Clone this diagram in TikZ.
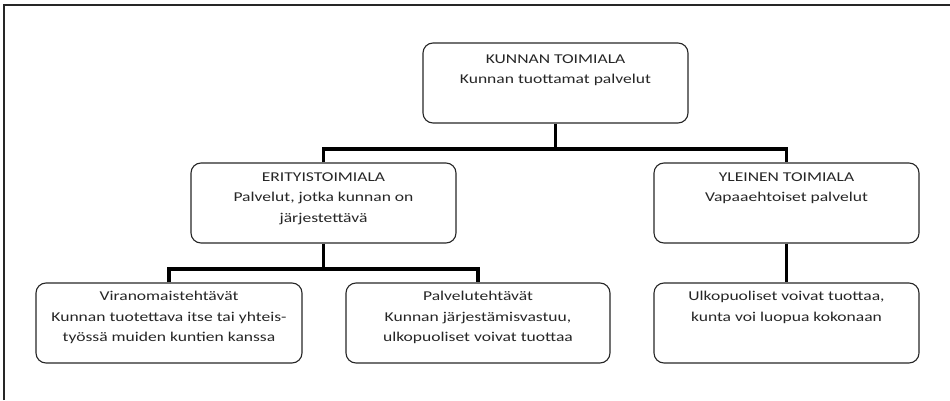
\documentclass[tikz,border=0pt]{standalone}
\usepackage{fontspec}
\setmainfont{Carlito}
\usepackage{graphicx}
\newcommand{\sx}[1]{\scalebox{1.3}[1]{#1}}
\begin{document}
\begin{tikzpicture}[x=1pt,y=1pt,
  box/.style={draw=black!85, line width=1.1pt, rounded corners=10pt,
    minimum width=265pt, minimum height=80pt, inner sep=0pt},
  txt/.style={align=center, inner sep=0pt, anchor=north, text=black!85,
    font=\fontsize{13.5}{20.5}\selectfont},
  conn/.style={line width=3.2pt, black},
  frame/.style={line width=1.4pt, black!85}]
\useasboundingbox (0,0) rectangle (950,400);
\draw[frame] (4,0) -- (4,395) -- (950,395);
% boxes
\node[box] (top) at (555.5,317) {};
\node[box] (eri) at (323.5,197) {};
\node[box] (yle) at (786.5,197) {};
\node[box, minimum width=266pt] (vir) at (169,77) {};
\node[box, minimum width=264pt] (pal) at (478,77) {};
\node[box] (ulk) at (786.5,77) {};
% texts
\node[txt] (topt) at ([yshift=-12pt]top.north) {\sx{KUNNAN TOIMIALA}\\\sx{Kunnan tuottamat palvelut}};
\node[txt] (erit) at ([yshift=-10pt]eri.north) {\sx{ERITYISTOIMIALA}\\\sx{Palvelut, jotka kunnan on}\\\sx{järjestettävä}};
\node[txt] (ylet) at ([yshift=-10pt]yle.north) {\sx{YLEINEN TOIMIALA}\\\sx{Vapaaehtoiset palvelut}};
\node[txt] (virt) at ([yshift=-8.5pt]vir.north) {\sx{Viranomaistehtävät}\\\sx{Kunnan tuotettava itse tai yhteis-}\\\sx{työssä muiden kuntien kanssa}};
\node[txt] (palt) at ([yshift=-8.5pt]pal.north) {\sx{Palvelutehtävät}\\\sx{Kunnan järjestämisvastuu,}\\\sx{ulkopuoliset voivat tuottaa}};
\node[txt] (ulkt) at ([yshift=-8.5pt]ulk.north) {\sx{Ulkopuoliset voivat tuottaa,}\\\sx{kunta voi luopua kokonaan}};
% connectors
\coordinate (b1) at (555.5,251);
\coordinate (b2) at (323.5,131);
\draw[conn] (top.south) -- (b1);
\draw[conn] (eri.north) |- (b1) -| (yle.north);
\draw[conn] (eri.south) -- (b2);
\draw[conn] (vir.north) |- (b2) -| (pal.north);
\draw[conn] (yle.south) -- (ulk.north);
\end{tikzpicture}
\end{document}
